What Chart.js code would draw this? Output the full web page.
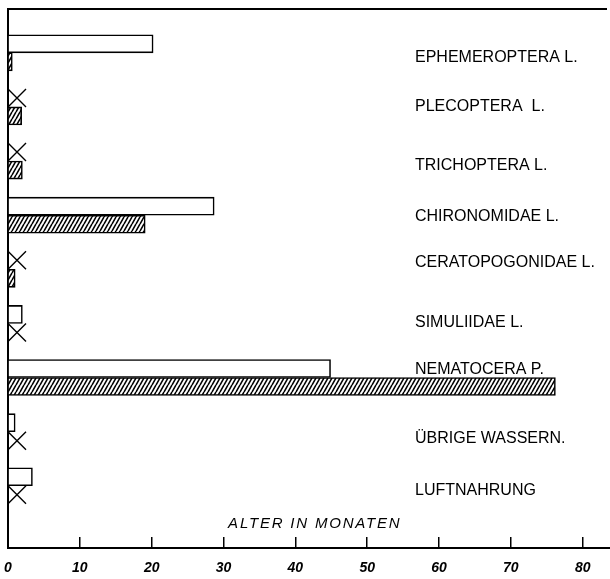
<!DOCTYPE html>
<html>
<head>
<meta charset="utf-8">
<script src="https://cdn.jsdelivr.net/npm/chart.js@4/dist/chart.umd.min.js"></script>
<style>
  body { margin: 0; background: #fff; }
  #wrap { width: 610px; height: 579px; }
</style>
</head>
<body>
<div id="wrap"><canvas id="chart"></canvas></div>
<script>
const categories = ['EPHEMEROPTERA L.', 'PLECOPTERA  L.', 'TRICHOPTERA L.', 'CHIRONOMIDAE L.',
  'CERATOPOGONIDAE L.', 'SIMULIIDAE L.', 'NEMATOCERA P.', 'ÜBRIGE WASSERN.', 'LUFTNAHRUNG'];
const openValues = [20.2, 0, 0, 28.7, 0, 2.0, 44.9, 1.0, 3.4];
const hatchedValues = [0.6, 1.9, 2.0, 19.1, 1.0, 0, 76.2, 0, 0];
const xTicks = [0, 10, 20, 30, 40, 50, 60, 70, 80];
const axisTitle = 'ALTER IN MONATEN';

// small vertical nudges of the category labels, as lettered in the original
const labelNudge = [0.09, 0, 0.08, 0.03, -0.13, -0.01, -0.15, 0.12, 0.09];

// diagonal hatching
function makeHatch() {
  const w = 4, h = 7;
  const c = document.createElement('canvas');
  c.width = w; c.height = h;
  const g = c.getContext('2d');
  g.fillStyle = '#fff';
  g.fillRect(0, 0, w, h);
  g.strokeStyle = '#000';
  g.lineWidth = 1.6;
  g.beginPath();
  for (const dx of [-w, 0, w]) {
    g.moveTo(dx, h);
    g.lineTo(dx + w, 0);
  }
  g.stroke();
  return g.createPattern(c, 'repeat');
}

const toPoints = vals => vals.map((v, i) => ({ x: v, y: i }));

// X marks where a value is zero, frame top line, axis caption
const extras = {
  id: 'extras',
  afterDatasetsDraw(chart) {
    const ctx = chart.ctx;
    const xs = chart.scales.x;
    const x0 = xs.getPixelForValue(0);
    ctx.save();
    ctx.strokeStyle = '#000';
    ctx.lineWidth = 1.4;
    chart.data.datasets.forEach((ds, di) => {
      const meta = chart.getDatasetMeta(di);
      ds.data.forEach((p, i) => {
        if (p.x !== 0) return;
        const { y, height } = meta.data[i].getProps(['y', 'height'], true);
        const h = height;
        ctx.beginPath();
        ctx.moveTo(x0, y - h / 2);
        ctx.lineTo(x0 + h, y + h / 2);
        ctx.moveTo(x0, y + h / 2);
        ctx.lineTo(x0 + h, y - h / 2);
        ctx.stroke();
      });
    });
    const a = chart.chartArea;
    ctx.lineWidth = 2;
    ctx.beginPath();
    ctx.moveTo(a.left, a.top);
    ctx.lineTo(a.right - 3, a.top);
    ctx.stroke();
    ctx.fillStyle = '#000';
    ctx.font = 'italic 15px "Liberation Sans"';
    ctx.letterSpacing = '1.8px';
    ctx.textAlign = 'center';
    ctx.textBaseline = 'middle';
    ctx.fillText(axisTitle, xs.getPixelForValue(42.7), a.bottom - 24);
    ctx.restore();
  }
};

new Chart(document.getElementById('chart'), {
  type: 'bar',
  data: {
    datasets: [
      {
        label: 'a',
        data: toPoints(openValues),
        backgroundColor: '#fff',
        borderColor: '#000',
        borderWidth: 1.6,
        barThickness: 18
      },
      {
        label: 'b',
        data: toPoints(hatchedValues),
        backgroundColor: makeHatch(),
        borderColor: '#000',
        borderWidth: 1.6,
        barThickness: 18
      }
    ]
  },
  options: {
    indexAxis: 'y',
    responsive: true,
    maintainAspectRatio: false,
    animation: false,
    layout: { padding: { top: 9, left: 8, right: 0, bottom: 0 } },
    plugins: {
      legend: { display: false },
      tooltip: { enabled: false }
    },
    scales: {
      x: {
        type: 'linear',
        min: 0,
        max: 83.8,
        afterBuildTicks: s => { s.ticks = xTicks.map(v => ({ value: v })); },
        afterFit: s => { s.height = 31; },
        border: { display: true, color: '#000', width: 2 },
        grid: { drawOnChartArea: false, drawTicks: true, tickLength: -11, color: '#000', lineWidth: 1.5 },
        ticks: {
          padding: 0,
          color: '#000',
          maxRotation: 0,
          font: { family: 'Liberation Sans', size: 14, style: 'italic', weight: 'bold', lineHeight: 4.4 }
        }
      },
      y: {
        type: 'linear',
        reverse: true,
        offset: false,
        min: -0.81,
        max: 9.15,
        afterBuildTicks: s => { s.ticks = categories.map((c, i) => ({ value: i + labelNudge[i] })); },
        afterFit: s => { s.width = 0; s.paddingTop = 0; s.paddingBottom = 0; },
        border: { display: true, color: '#000', width: 2 },
        grid: { drawOnChartArea: false, drawTicks: false },
        ticks: {
          mirror: true,
          padding: 407,
          color: '#000',
          font: { family: 'Liberation Sans', size: 16 },
          callback: v => categories[Math.round(v)]
        }
      }
    }
  },
  plugins: [extras]
});
</script>
</body>
</html>
